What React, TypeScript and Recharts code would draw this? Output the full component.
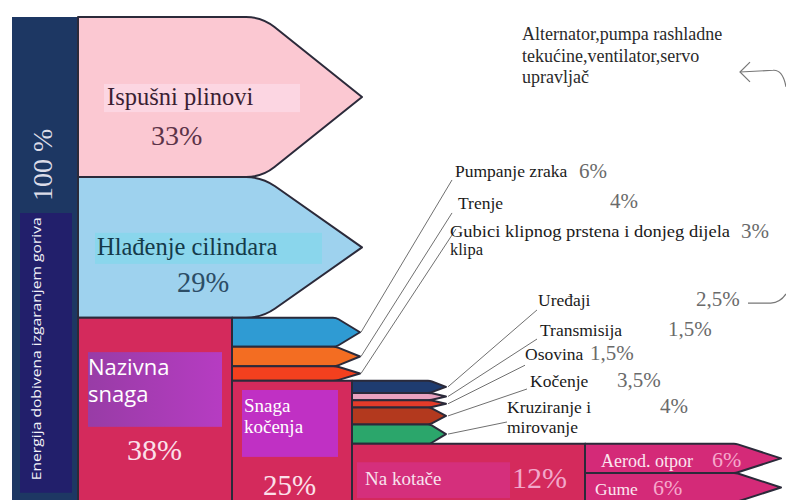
import React from 'react';
import { ComposedChart, XAxis, YAxis, ReferenceArea, ReferenceLine, ReferenceDot } from 'recharts';

// ---------------- data ----------------
const sourceName = 'Energija dobivena izgaranjem goriva';
const sourceValue = 100;

const stage1Names = ['Ispušni plinovi', 'Hlađenje cilindara', 'Nazivna\nsnaga'];
const stage1Values = [33, 29, 38];

const stage2Names = ['Pumpanje zraka', 'Trenje', 'Gubici klipnog prstena i donjeg dijela\nklipa', 'Snaga\nkočenja'];
const stage2Values = [6, 4, 3, 25];

const stage3Names = ['Uređaji', 'Transmisija', 'Osovina', 'Kočenje', 'Kruziranje i\nmirovanje', 'Na kotače'];
const stage3Values = [2.5, 1.5, 1.5, 3.5, 4, 12];

const stage4Names = ['Aerod. otpor', 'Gume'];
const stage4Values = [6, 6];

const auxNote = ['Alternator,pumpa rashladne', 'tekućine,ventilator,servo', 'upravljač'];

// ---------------- styles / layout ----------------
const SERIF = 'Liberation Serif, Times New Roman, serif';
const SANS = 'Open Sans, Noto Sans, sans-serif';
const OUT = '#2b2a3a';
const C1 = ['#fbc8d2', '#9ed2ee', '#d42a5c'];
const C2 = ['#2f9bd3', '#f36d22', '#f3401e', '#d42a5c'];
const C3 = ['#1f3c70', '#eaa2c0', '#e43b2a', '#b3391e', '#2ba66b', '#d42a5c'];
const C4 = ['#d42a78', '#d42a78'];

const COLS = {
  src: { x0: 12, x1: 78 },
  s1: { x0: 78, body: 262, tip: 362, end: 232, r: 16 },
  s2: { x0: 232, body: 336, tip: 360, end: 352, r: 3 },
  s3: { x0: 352, body: 430, tip: 446, end: 585, r: 2 },
  s4: { x0: 585, body: 736, tip: 781, r: 2 },
};

const s2LabelPos = [{ x: 455, y: 33.0 }, { x: 458, y: 39.6 }, { x: 450, y: 45.4 }];
const s2ValuePos = [{ x: 579, y: 33.2 }, { x: 610, y: 39.4 }, { x: 741, y: 45.6 }];
const s2LineEnd = [{ x: 452, y: 33.6 }, { x: 452, y: 40.4 }, { x: 456, y: 43.7 }];

const s3LabelPos = [{ x: 538, y: 59.6 }, { x: 540, y: 65.8 }, { x: 525, y: 70.7 }, { x: 530, y: 76.3 }, { x: 507, y: 81.6 }];
const s3ValuePos = [{ x: 696, y: 59.6 }, { x: 668, y: 65.8 }, { x: 590, y: 70.7 }, { x: 617, y: 76.3 }, { x: 660, y: 81.6 }];
const s3LineEnd = [{ x: 537, y: 60.4 }, { x: 537, y: 66.4 }, { x: 525, y: 71.8 }, { x: 527, y: 76.7 }, { x: 507, y: 83.5 }];

const fmt = (v: number) => `${String(v).replace('.', ',')}%`;

function stack(values: number[], start: number) {
  let acc = start;
  return values.map((v) => {
    const y1 = acc;
    acc += v;
    return { y1, y2: acc, mid: (y1 + acc) / 2 };
  });
}

const s1 = stack(stage1Values, 0);
const s2 = stack(stage2Values, s1[2].y1);
const s3 = stack(stage3Values, s2[3].y1);
const s4 = stack(stage4Values, s3[5].y1);

const arrowShape = (x1: number, body: number, tip: number, r: number, fill: string) => (p: any) => {
  const { x, y, width, height } = p;
  const xb = x + (width * (body - x1)) / (tip - x1);
  const xt = x + width;
  const y0 = y;
  const y1 = y + height;
  const ym = (y0 + y1) / 2;
  const dx = xt - xb;
  const dy = ym - y0;
  const L = Math.hypot(dx, dy);
  const ux = dx / L;
  const uy = dy / L;
  const d = `M${x},${y0} L${xb - r},${y0} Q${xb},${y0} ${xb + r * ux},${y0 + r * uy} L${xt},${ym} L${xb + r * ux},${y1 - r * uy} Q${xb},${y1} ${xb - r},${y1} L${x},${y1} Z`;
  return <path d={d} fill={fill} stroke={OUT} strokeWidth={2} strokeLinejoin="round" />;
};

type TOpts = { size: number; fill: string; family?: string; lh?: number; rotate?: boolean; anchor?: string; textLength?: number; weight?: number };
const textShape = (content: string, o: TOpts) => (p: any) => {
  const lines = content.split('\n');
  return (
    <text
      x={p.cx}
      y={p.cy}
      style={{ fontFamily: o.family || SERIF, fontSize: o.size, fontWeight: o.weight || 400 }}
      fill={o.fill}
      textAnchor={(o.anchor as any) || 'start'}
      transform={o.rotate ? `rotate(-90 ${p.cx} ${p.cy})` : undefined}
    >
      {lines.map((l, i) => (
        <tspan
          key={i}
          x={p.cx}
          dy={i === 0 ? 0 : o.lh || o.size * 1.15}
          textLength={i === 0 ? o.textLength : undefined}
          lengthAdjust={i === 0 && o.textLength ? 'spacingAndGlyphs' : undefined}
        >
          {l}
        </tspan>
      ))}
    </text>
  );
};

const Txt = (key: string, x: number, y: number, content: string, o: TOpts) => (
  <ReferenceDot key={key} x={x} y={y} r={0} ifOverflow="visible" shape={textShape(content, o)} />
);

const boxShape = (fill: string, fill2?: string, id?: string) => (p: any) => (
  <g>
    {fill2 && (
      <defs>
        <linearGradient id={id} x1="0" y1="0" x2="1" y2="0">
          <stop offset="0" stopColor={fill} />
          <stop offset="1" stopColor={fill2} />
        </linearGradient>
      </defs>
    )}
    <rect x={p.x} y={p.y} width={p.width} height={p.height} fill={fill2 ? `url(#${id})` : fill} />
  </g>
);

const tailShape = (p: any) => {
  const { x, y, width: w, height: h } = p;
  return (
    <path
      d={`M${x},${y + h * 0.9} L${x + 0.6 * w},${y + h * 0.9} Q${x + 0.85 * w},${y + h * 0.85} ${x + w},${y}`}
      fill="none"
      stroke="#777"
      strokeWidth={1.2}
    />
  );
};

const backArrowShape = (p: any) => {
  const { x, y, width: w, height: h } = p;
  return (
    <g fill="none" stroke="#777" strokeWidth={1.2}>
      <path d={`M${x + w},${y + h} Q${x + 0.93 * w},${y + 0.3 * h} ${x + 0.72 * w},${y + 0.33 * h} L${x},${y + 0.4 * h}`} />
      <path d={`M${x + 10},${y} L${x},${y + 0.4 * h} L${x + 10},${y + 0.8 * h}`} />
    </g>
  );
};

export default function App() {
  return (
    <div style={{ position: 'absolute', left: 0, top: 0, width: 786, height: 500, background: '#fff' }}>
      <ComposedChart width={786} height={500} margin={{ top: 17, right: 0, bottom: -2, left: 0 }} data={[]}>
        <XAxis type="number" dataKey="x" domain={[0, 786]} hide allowDataOverflow />
        <YAxis type="number" dataKey="y" domain={[0, sourceValue]} reversed hide allowDataOverflow />

        {/* source column */}
        <ReferenceArea x1={COLS.src.x0} x2={COLS.src.x1} y1={0} y2={sourceValue} fill="#1d3763" fillOpacity={1} stroke="none" ifOverflow="visible" />
        <ReferenceArea x1={20} x2={72} y1={40.4} y2={98.1} fill="#221f6b" fillOpacity={1} stroke="none" ifOverflow="visible" />

        {/* stage 1 losses */}
        {s1.slice(0, 2).map((s, i) => (
          <ReferenceArea key={`s1-${i}`} x1={COLS.s1.x0} x2={COLS.s1.tip} y1={s.y1} y2={s.y2} ifOverflow="visible"
            shape={arrowShape(COLS.s1.x0, COLS.s1.body, COLS.s1.tip, COLS.s1.r, C1[i])} />
        ))}
        <ReferenceArea x1={COLS.s1.x0} x2={COLS.s1.end} y1={s1[2].y1} y2={s1[2].y2} fill={C1[2]} fillOpacity={1} stroke={OUT} strokeWidth={2} ifOverflow="visible" />

        {/* stage 2 */}
        {s2.slice(0, 3).map((s, i) => (
          <ReferenceArea key={`s2-${i}`} x1={COLS.s2.x0} x2={COLS.s2.tip} y1={s.y1} y2={s.y2} ifOverflow="visible"
            shape={arrowShape(COLS.s2.x0, COLS.s2.body, COLS.s2.tip, COLS.s2.r, C2[i])} />
        ))}
        <ReferenceArea x1={COLS.s2.x0} x2={COLS.s2.end} y1={s2[3].y1} y2={s2[3].y2} fill={C2[3]} fillOpacity={1} stroke={OUT} strokeWidth={2} ifOverflow="visible" />

        {/* stage 3 */}
        {s3.slice(0, 5).map((s, i) => (
          <ReferenceArea key={`s3-${i}`} x1={COLS.s3.x0} x2={COLS.s3.tip} y1={s.y1} y2={s.y2} ifOverflow="visible"
            shape={arrowShape(COLS.s3.x0, COLS.s3.body, COLS.s3.tip, COLS.s3.r, C3[i])} />
        ))}
        <ReferenceArea x1={COLS.s3.x0} x2={COLS.s3.end} y1={s3[5].y1} y2={s3[5].y2} fill={C3[5]} fillOpacity={1} stroke={OUT} strokeWidth={2} ifOverflow="visible" />

        {/* stage 4 */}
        {s4.map((s, i) => (
          <ReferenceArea key={`s4-${i}`} x1={COLS.s4.x0} x2={COLS.s4.tip} y1={s.y1} y2={s.y2} ifOverflow="visible"
            shape={arrowShape(COLS.s4.x0, COLS.s4.body, COLS.s4.tip, COLS.s4.r, C4[i])} />
        ))}

        {/* text highlight boxes */}
        <ReferenceArea x1={104} x2={300} y1={13.8} y2={19.6} ifOverflow="visible" shape={boxShape('#fcd6e2')} />
        <ReferenceArea x1={95} x2={322} y1={44.5} y2={50.9} ifOverflow="visible" shape={boxShape('#8ad6ec')} />
        <ReferenceArea x1={88} x2={222} y1={69.1} y2={84.5} ifOverflow="visible" shape={boxShape('#983ca6', '#b63cc2', 'gNaz')} />
        <ReferenceArea x1={242} x2={338} y1={76.9} y2={90.7} ifOverflow="visible" shape={boxShape('#c030c4')} />
        <ReferenceArea x1={357} x2={510} y1={91.8} y2={99.2} ifOverflow="visible" shape={boxShape('#d52f7c')} />

        {/* leader lines */}
        {s2.slice(0, 3).map((s, i) => (
          <ReferenceLine key={`l2-${i}`} ifOverflow="visible" stroke="#707070" strokeWidth={1}
            segment={[{ x: COLS.s2.tip + 1, y: s.mid }, s2LineEnd[i]]} />
        ))}
        {s3.slice(0, 5).map((s, i) => (
          <ReferenceLine key={`l3-${i}`} ifOverflow="visible" stroke="#707070" strokeWidth={1}
            segment={[{ x: COLS.s3.tip + 2, y: s.mid }, s3LineEnd[i]]} />
        ))}
        <ReferenceArea x1={748} x2={786} y1={57.1} y2={59.2} ifOverflow="visible" shape={tailShape} />
        <ReferenceArea x1={740} x2={786} y1={9.3} y2={14.4} ifOverflow="visible" shape={backArrowShape} />

        {/* source texts */}
        {Txt('src-v', 52, 30.5, `${sourceValue} %`, { size: 28, fill: '#dcdce8', rotate: true, anchor: 'middle' })}
        {Txt('src-n', 41, 95.5, sourceName, { size: 13.5, fill: '#f2f2f8', family: SANS, rotate: true, textLength: 263 })}

        {/* stage 1 texts */}
        {Txt('s1n0', 107, 18.1, stage1Names[0], { size: 24.5, fill: '#3b1f33' })}
        {Txt('s1v0', 151, 26.4, fmt(stage1Values[0]), { size: 28, fill: '#5c3348' })}
        {Txt('s1n1', 97, 49.1, stage1Names[1], { size: 24.5, fill: '#153a4a' })}
        {Txt('s1v1', 177, 56.7, fmt(stage1Values[1]), { size: 28.5, fill: '#2c4d66' })}
        {Txt('s1n2', 88, 73.8, stage1Names[2], { size: 22, fill: '#ffffff', family: SANS, lh: 27 })}
        {Txt('s1v2', 127, 91.3, fmt(stage1Values[2]), { size: 30, fill: '#fbe0ea' })}

        {/* stage 2 texts */}
        {stage2Names.slice(0, 3).map((n, i) =>
          Txt(`s2n${i}`, s2LabelPos[i].x, s2LabelPos[i].y, n, {
            size: i === 2 ? 16.5 : 17.5,
            fill: '#1a1a1a',
            lh: 18,
            textLength: i === 2 ? 280 : undefined,
          })
        )}
        {stage2Values.slice(0, 3).map((v, i) =>
          Txt(`s2v${i}`, s2ValuePos[i].x, s2ValuePos[i].y, fmt(v), { size: 21, fill: '#6a6a6a' })
        )}
        {Txt('s2n3', 244, 81.4, stage2Names[3], { size: 19, fill: '#ffffff', lh: 21 })}
        {Txt('s2v3', 263, 98.5, fmt(stage2Values[3]), { size: 29, fill: '#fbe0ea' })}

        {/* stage 3 texts */}
        {stage3Names.slice(0, 5).map((n, i) =>
          Txt(`s3n${i}`, s3LabelPos[i].x, s3LabelPos[i].y, n, { size: 17.5, fill: '#1a1a1a', lh: 20 })
        )}
        {stage3Values.slice(0, 5).map((v, i) =>
          Txt(`s3v${i}`, s3ValuePos[i].x, s3ValuePos[i].y, fmt(v), { size: 21, fill: '#6a6a6a' })
        )}
        {Txt('s3n5', 365, 96.5, stage3Names[5], { size: 19, fill: '#f8e2ee' })}
        {Txt('s3v5', 512, 97.1, fmt(stage3Values[5]), { size: 30, fill: '#f2a8ca' })}

        {/* stage 4 texts */}
        {Txt('s4n0', 601, 92.8, stage4Names[0], { size: 18, fill: '#fbe6f0' })}
        {Txt('s4v0', 712, 92.8, fmt(stage4Values[0]), { size: 22, fill: '#f6a8cc' })}
        {Txt('s4n1', 595, 98.6, stage4Names[1], { size: 17.5, fill: '#fbe6f0' })}
        {Txt('s4v1', 653, 98.6, fmt(stage4Values[1]), { size: 22, fill: '#f6a8cc' })}

        {/* auxiliary note */}
        {auxNote.map((l, i) => Txt(`aux${i}`, 522, [4.7, 9.3, 13.6][i], l, { size: 18, fill: '#2a2a2a' }))}
      </ComposedChart>
    </div>
  );
}
